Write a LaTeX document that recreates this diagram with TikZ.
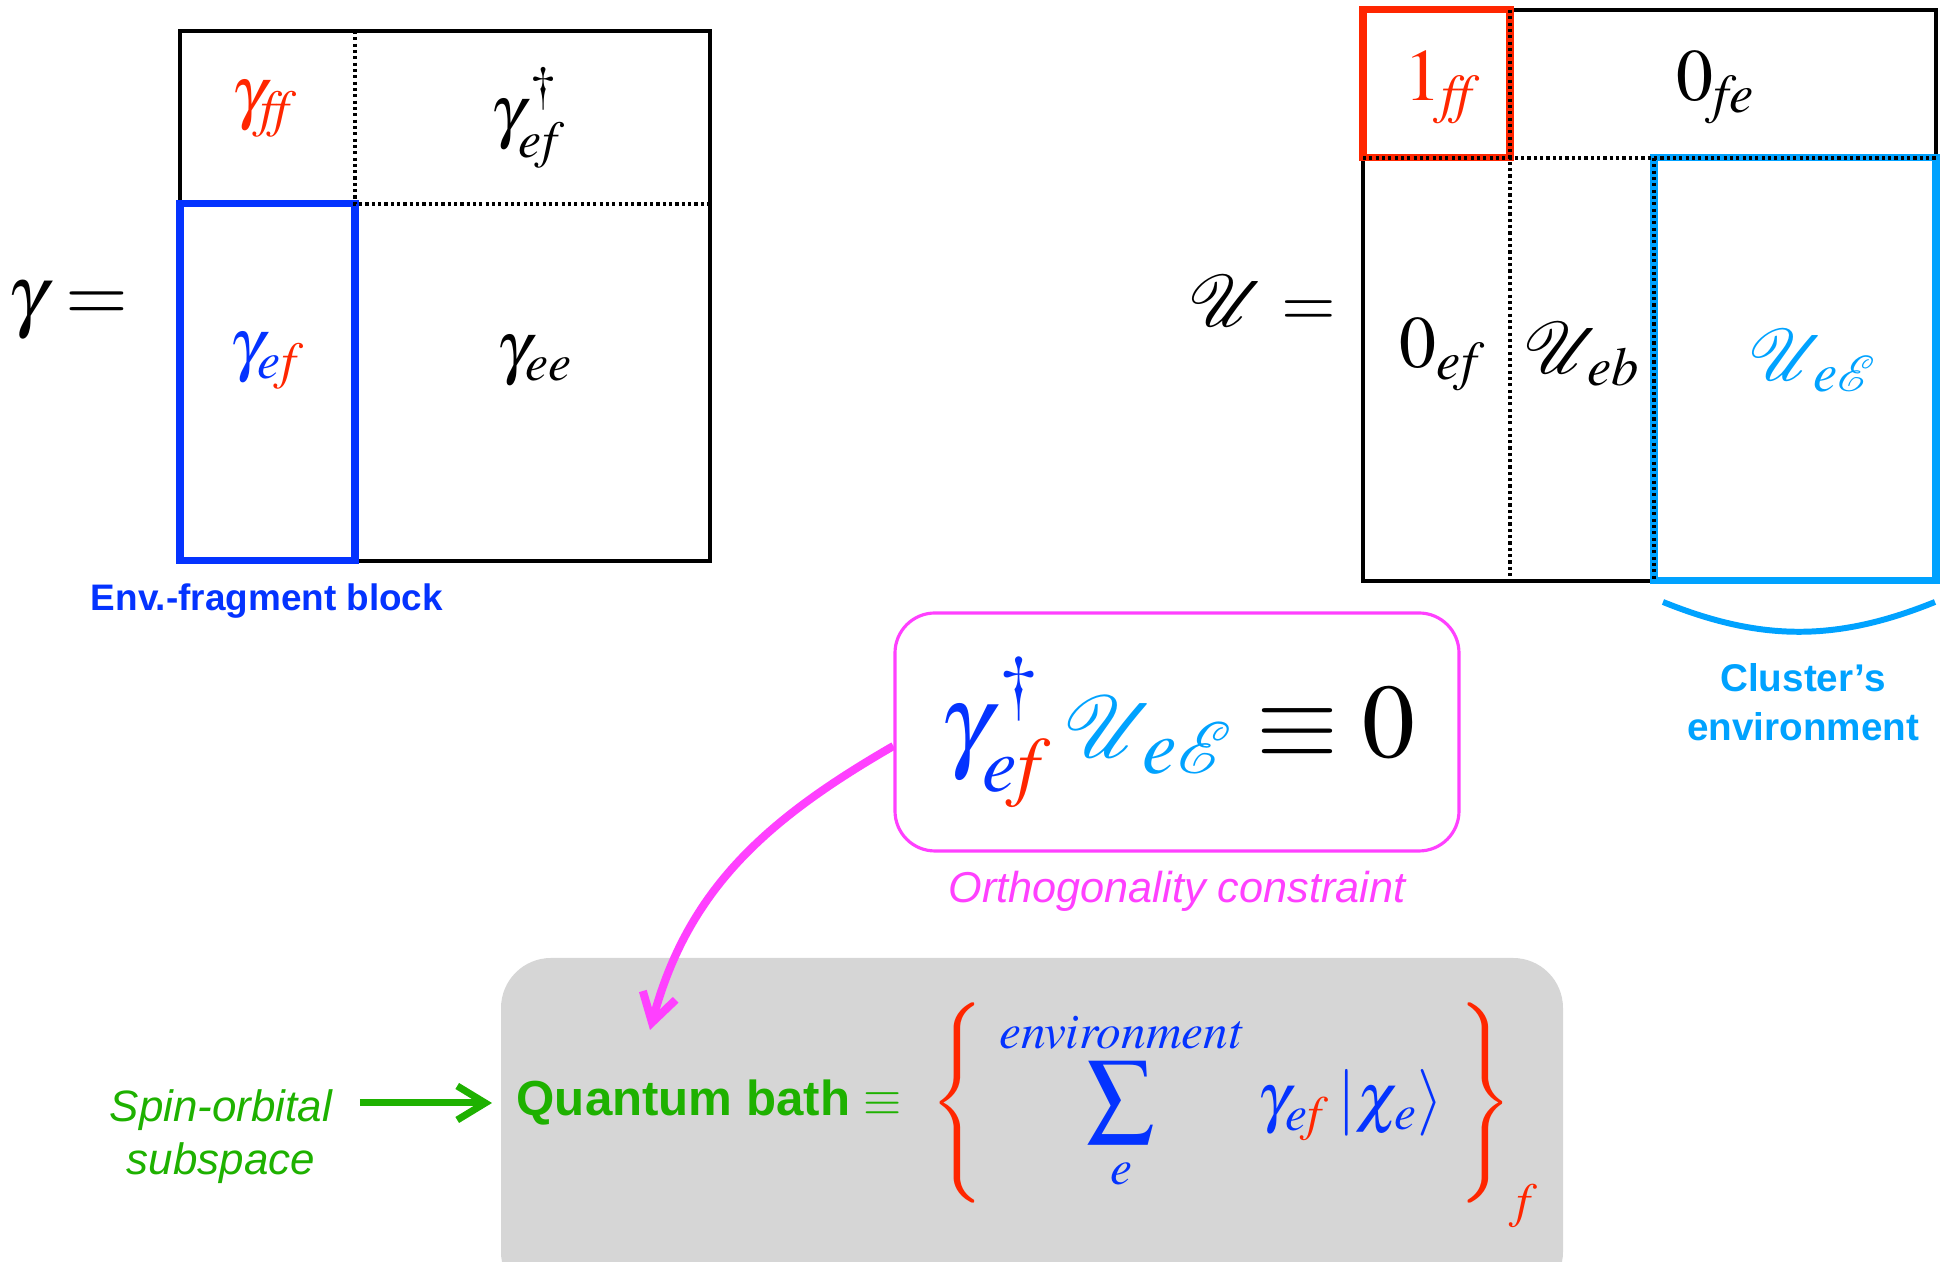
\documentclass[tikz,border=0pt]{standalone}
\usepackage{mathptmx}
\usepackage{mathrsfs}
\usepackage{fontspec}
\setmainfont{Liberation Serif}
\setsansfont{Liberation Sans}
\usetikzlibrary{arrows.meta,positioning}

\definecolor{fragred}{RGB}{255,38,0}
\definecolor{envblue}{RGB}{4,51,255}
\definecolor{clustcyan}{RGB}{0,162,255}
\definecolor{orthmag}{RGB}{255,64,255}
\definecolor{bathgreen}{RGB}{30,177,0}
\definecolor{bathgray}{RGB}{214,214,214}

\begin{document}
\begin{tikzpicture}[x=1cm,y=1cm,
  every node/.style={inner sep=0pt},
  gcell/.style={font=\fontsize{20}{24}\selectfont},
  ucell/.style={font=\fontsize{21}{25}\selectfont},
  glhs/.style={font=\fontsize{23}{27}\selectfont},
  ulhs/.style={font=\fontsize{20}{24}\selectfont},
  matframe/.style={line width=0.9pt},
  dotline/.style={line width=0.9pt, dash pattern=on 0.9pt off 0.9pt},
  hibox/.style={line width=2pt},
  boldlbl/.style={font=\sffamily\bfseries\fontsize{11}{14}\selectfont},
  slantlbl/.style={font=\sffamily\itshape\fontsize{12.5}{15}\selectfont},
  orthbox/.style={draw=orthmag, line width=0.9pt, rounded corners=0.4cm,
    minimum width=5.64cm, minimum height=2.38cm,
    font=\fontsize{30}{36}\selectfont},
  arr/.style={line width=2pt, -{Straight Barb[length=2.8mm,width=3.4mm]}},
]
\useasboundingbox (0,0) rectangle (19.5,12.62);

% density matrix gamma
\draw[matframe] (1.80,12.31) rectangle (7.10,7.01);
\draw[envblue, hibox] (1.80,10.58) rectangle (3.55,7.01);
\draw[dotline] (3.55,12.31) -- (3.55,10.58) -- (7.10,10.58);
\node[glhs] (gamlhs) at (0.68,9.51) {$\gamma =$};
\node[gcell, fragred] (gff) at (2.65,11.53) {$\gamma_{\mathit{ff}}$};
\node[gcell] (gefdag) at (5.28,11.44) {$\gamma_{\mathit{ef}}^{\,\dagger}$};
\node[gcell] (gef) at (2.67,9.01) {$\color{envblue}\gamma_{\mathit{e}\textcolor{fragred}{\mathit{f}}}$};
\node[gcell] (gee) at (5.35,9.01) {$\gamma_{\mathit{ee}}$};
\node[boldlbl, envblue, font=\sffamily\bfseries\fontsize{10.5}{13}\selectfont] (envlbl) at (2.67,6.61) {Env.-fragment block};

% unitary U
\draw[matframe] (13.63,12.52) rectangle (19.36,6.81);
\draw[fragred, hibox] (13.63,12.52) rectangle (15.10,11.04);
\draw[clustcyan, hibox] (16.54,11.04) rectangle (19.36,6.81);
\draw[dotline] (13.63,11.04) -- (19.36,11.04);
\draw[dotline] (15.10,12.52) -- (15.10,6.81);
\draw[dotline] (16.54,11.04) -- (16.54,6.81);
\node[ulhs] (unilhs) at (12.62,9.61) {$\mathscr{U} =$};
\node[ucell, fragred] (one) at (14.43,11.75) {$1_{\mathit{ff}}$};
\node[ucell] (zfe) at (17.16,11.75) {$0_{\mathit{fe}}$};
\node[ucell] (zef) at (14.43,9.08) {$0_{\mathit{ef}}$};
\node[ucell] (ueb) at (15.82,9.08) {$\mathscr{U}_{\,\mathit{eb}}$};
\node[ucell, clustcyan] (uee) at (18.13,9.01) {$\mathscr{U}_{\,\mathit{e}\mathscr{E}}$};
\draw[clustcyan, line width=1.7pt] (16.63,6.60) to[bend right=22] (19.35,6.60);
\node[boldlbl, clustcyan, align=center] (clustlbl) at (18.03,5.60) {Cluster's\\environment};

% orthogonality constraint
\node[orthbox] (ortho) at (11.77,5.30)
  {$\color{envblue}\gamma_{\mathit{e}\textcolor{fragred}{\mathit{f}}}^{\,\dagger}\,\textcolor{clustcyan}{\mathscr{U}_{\,\mathit{e}\mathscr{E}}}\color{black}\equiv 0$};
\node[slantlbl, orthmag, font=\sffamily\itshape\fontsize{12.3}{15}\selectfont, below=0.18cm of ortho] (orthtxt) {Orthogonality constraint};

% quantum bath
\fill[bathgray, rounded corners=0.5cm] (5.01,3.04) rectangle (15.63,-0.4);
\node[boldlbl, bathgreen, font=\sffamily\bfseries\fontsize{14}{17}\selectfont, anchor=west] (bath) at (5.16,1.59) {Quantum bath $\equiv$};
\node[font=\fontsize{19}{23}\selectfont, anchor=west] (bathset) at (9.30,1.59)
  {$\displaystyle\color{fragred}\left\{\;\color{envblue}\sum_{\mathit{e}}^{\mathit{environment}}\,\gamma_{\mathit{e}\textcolor{fragred}{\mathit{f}}}\,|\chi_{\mathit{e}}\rangle\;\color{fragred}\right\}$};
\node[font=\fontsize{14}{17}\selectfont, fragred] (bathsub) at (15.27,0.56) {$\mathit{f}$};
\node[slantlbl, bathgreen, align=center] (spin) at (2.21,1.25) {Spin-orbital\\subspace};
\coordinate (bathtop) at (6.50,2.32);
\draw[arr, bathgreen, shorten <=0.27cm, shorten >=0.24cm] (spin.east |- bath.west) -- (bath.west);
\draw[arr, orthmag, line width=2.3pt] ([yshift=-0.14cm]ortho.west) to[out=210,in=75] (bathtop);
\end{tikzpicture}
\end{document}
